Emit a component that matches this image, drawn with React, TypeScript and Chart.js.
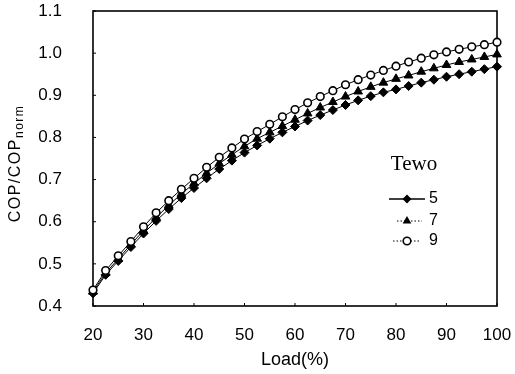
import React, { useEffect, useRef } from "react";
import { Chart, registerables } from "chart.js";

Chart.register(...registerables);

const loads = [20, 22.5, 25, 27.5, 30, 32.5, 35, 37.5, 40, 42.5, 45, 47.5, 50, 52.5, 55, 57.5, 60, 62.5, 65, 67.5, 70, 72.5, 75, 77.5, 80, 82.5, 85, 87.5, 90, 92.5, 95, 97.5, 100];
const tewo5 = [0.430, 0.474, 0.507, 0.540, 0.572, 0.602, 0.630, 0.656, 0.680, 0.703, 0.725, 0.745, 0.764, 0.781, 0.797, 0.812, 0.826, 0.840, 0.853, 0.865, 0.877, 0.888, 0.898, 0.907, 0.914, 0.922, 0.930, 0.937, 0.944, 0.950, 0.956, 0.962, 0.968];
const tewo7 = [0.434, 0.478, 0.512, 0.546, 0.579, 0.610, 0.639, 0.666, 0.691, 0.715, 0.738, 0.759, 0.779, 0.797, 0.812, 0.827, 0.842, 0.857, 0.871, 0.884, 0.897, 0.909, 0.920, 0.930, 0.939, 0.947, 0.956, 0.964, 0.972, 0.979, 0.985, 0.991, 0.997];
const tewo9 = [0.438, 0.484, 0.519, 0.553, 0.588, 0.621, 0.650, 0.677, 0.703, 0.729, 0.753, 0.775, 0.796, 0.814, 0.831, 0.849, 0.866, 0.882, 0.897, 0.911, 0.925, 0.937, 0.948, 0.959, 0.969, 0.979, 0.988, 0.996, 1.003, 1.009, 1.015, 1.020, 1.026];

const seriesLabels = ["5", "7", "9"];
const xTicks = [20, 30, 40, 50, 60, 70, 80, 90, 100];
const yTicks = [0.4, 0.5, 0.6, 0.7, 0.8, 0.9, 1.0, 1.1];
const legendTitle = "Tewo";
const xTitle = "Load(%)";
const yTitleMain = "COP/COP";
const yTitleSub = "norm";

const SANS = "'Liberation Sans', Arial, sans-serif";
const SERIF = "'Liberation Serif', 'Times New Roman', serif";

function drawMarker(ctx: CanvasRenderingContext2D, kind: string, x: number, y: number) {
  ctx.save();
  ctx.fillStyle = "#000";
  ctx.strokeStyle = "#000";
  ctx.beginPath();
  if (kind === "diamond") {
    const r = 4.5;
    ctx.moveTo(x, y - r);
    ctx.lineTo(x + r, y);
    ctx.lineTo(x, y + r);
    ctx.lineTo(x - r, y);
    ctx.closePath();
    ctx.fill();
  } else if (kind === "triangle") {
    const r = 5;
    ctx.moveTo(x, y - r);
    ctx.lineTo(x + r * 0.866, y + r * 0.5);
    ctx.lineTo(x - r * 0.866, y + r * 0.5);
    ctx.closePath();
    ctx.fill();
  } else {
    ctx.fillStyle = "#fff";
    ctx.lineWidth = 1.6;
    ctx.arc(x, y, 3.8, 0, Math.PI * 2);
    ctx.fill();
    ctx.stroke();
  }
  ctx.restore();
}

const decorPlugin = {
  id: "decor",
  beforeDatasetsDraw(chart: any) {
    const { ctx, chartArea: a, scales } = chart;
    ctx.save();
    ctx.strokeStyle = "#000";
    ctx.lineWidth = 1.6;
    ctx.strokeRect(a.left, a.top, a.right - a.left, a.bottom - a.top);
    ctx.lineWidth = 1;
    yTicks.forEach((v) => {
      const y = scales.y.getPixelForValue(v);
      ctx.beginPath();
      ctx.moveTo(a.left, y);
      ctx.lineTo(a.left + 3, y);
      ctx.stroke();
    });
    xTicks.forEach((v) => {
      const x = scales.x.getPixelForValue(v);
      ctx.beginPath();
      ctx.moveTo(x, a.bottom);
      ctx.lineTo(x, a.bottom - 3);
      ctx.stroke();
    });
    ctx.restore();
  },
  afterDraw(chart: any) {
    const { ctx, chartArea: a } = chart;
    // Y axis title with subscript
    ctx.save();
    ctx.fillStyle = "#000";
    (ctx as any).letterSpacing = "1.5px";
    ctx.font = `16px ${SANS}`;
    const wMain = ctx.measureText(yTitleMain).width;
    ctx.font = `12px ${SANS}`;
    const wSub = ctx.measureText(yTitleSub).width;
    const total = wMain + wSub;
    ctx.translate(13, (a.top + a.bottom) / 2 + 5);
    ctx.rotate(-Math.PI / 2);
    ctx.textAlign = "left";
    ctx.textBaseline = "alphabetic";
    ctx.font = `16px ${SANS}`;
    ctx.fillText(yTitleMain, -total / 2, 7);
    ctx.font = `12px ${SANS}`;
    ctx.fillText(yTitleSub, -total / 2 + wMain, 10);
    ctx.restore();

    // Legend
    ctx.save();
    ctx.fillStyle = "#000";
    ctx.textAlign = "center";
    ctx.textBaseline = "middle";
    ctx.font = `21px ${SERIF}`;
    ctx.fillText(legendTitle, 414, 164);
    const rows = [
      { y: 199, x1: 389, x2: 425, dash: [], lw: 1.5, kind: "diamond" },
      { y: 221, x1: 397, x2: 422, dash: [1.5, 2], lw: 1, kind: "triangle" },
      { y: 241, x1: 393, x2: 420, dash: [1.5, 2], lw: 1, kind: "circle" },
    ];
    rows.forEach((r, i) => {
      ctx.save();
      ctx.strokeStyle = "#000";
      ctx.lineWidth = r.lw;
      ctx.setLineDash(r.dash);
      ctx.beginPath();
      ctx.moveTo(r.x1, r.y);
      ctx.lineTo(r.x2, r.y);
      ctx.stroke();
      ctx.restore();
      drawMarker(ctx, r.kind, 407, r.y);
      ctx.font = `16px ${SANS}`;
      ctx.textAlign = "left";
      ctx.fillText(seriesLabels[i], 429, r.y);
    });
    ctx.restore();
  },
};

export default function App() {
  const ref = useRef<HTMLCanvasElement | null>(null);
  useEffect(() => {
    if (!ref.current) return;
    const mk = (vals: number[]) => loads.map((x, i) => ({ x, y: vals[i] }));
    const chart = new Chart(ref.current, {
      type: "line",
      data: {
        datasets: [
          {
            label: seriesLabels[0],
            data: mk(tewo5),
            borderColor: "#000",
            borderWidth: 1,
            pointStyle: "rectRot",
            pointRadius: 4.5,
            pointBackgroundColor: "#000",
            pointBorderColor: "#000",
            pointBorderWidth: 1,
            order: 2,
            clip: false,
          },
          {
            label: seriesLabels[1],
            data: mk(tewo7),
            borderColor: "#000",
            borderWidth: 1,
            pointStyle: "triangle",
            pointRadius: 5,
            pointBackgroundColor: "#000",
            pointBorderColor: "#000",
            pointBorderWidth: 1,
            order: 1,
            clip: false,
          },
          {
            label: seriesLabels[2],
            data: mk(tewo9),
            borderColor: "#000",
            borderWidth: 1,
            pointStyle: "circle",
            pointRadius: 3.8,
            pointBackgroundColor: "#fff",
            pointBorderColor: "#000",
            pointBorderWidth: 1.6,
            order: 0,
            clip: false,
          },
        ] as any,
      },
      options: {
        animation: false,
        responsive: false,
        maintainAspectRatio: false,
        layout: { padding: { top: 11, right: 18, left: 0, bottom: 0 } },
        plugins: { legend: { display: false }, tooltip: { enabled: false }, title: { display: false } },
        scales: {
          x: {
            type: "linear",
            min: 20,
            max: 100,
            afterBuildTicks: (s: any) => {
              s.ticks = xTicks.map((v) => ({ value: v }));
            },
            ticks: {
              color: "#000",
              font: { family: SANS, size: 17 },
              padding: 19,
              maxRotation: 0,
              callback: (v: any) => String(v),
            },
            grid: { display: false, drawTicks: false },
            border: { display: false },
            title: {
              display: true,
              text: xTitle,
              color: "#000",
              font: { family: SANS, size: 18 },
              padding: { top: 0, bottom: 3 },
            },
            afterFit: (s: any) => {
              s.height = 68;
              s.paddingLeft = 0;
              s.paddingRight = 0;
            },
          },
          y: {
            type: "linear",
            min: 0.4,
            max: 1.1,
            afterBuildTicks: (s: any) => {
              s.ticks = yTicks.map((v) => ({ value: v }));
            },
            ticks: {
              color: "#000",
              font: { family: SANS, size: 17 },
              padding: 31,
              callback: (v: any) => Number(v).toFixed(1),
            },
            grid: { display: false, drawTicks: false },
            border: { display: false },
            afterFit: (s: any) => {
              s.width = 93;
              s.paddingTop = 0;
              s.paddingBottom = 0;
            },
          },
        },
      } as any,
      plugins: [decorPlugin as any],
    });
    return () => chart.destroy();
  }, []);
  return (
    <div style={{ position: "fixed", left: 0, top: 0, width: 515, height: 374, background: "#fff" }}>
      <canvas ref={ref} width={515} height={374} style={{ width: 515, height: 374, display: "block" }} />
    </div>
  );
}
